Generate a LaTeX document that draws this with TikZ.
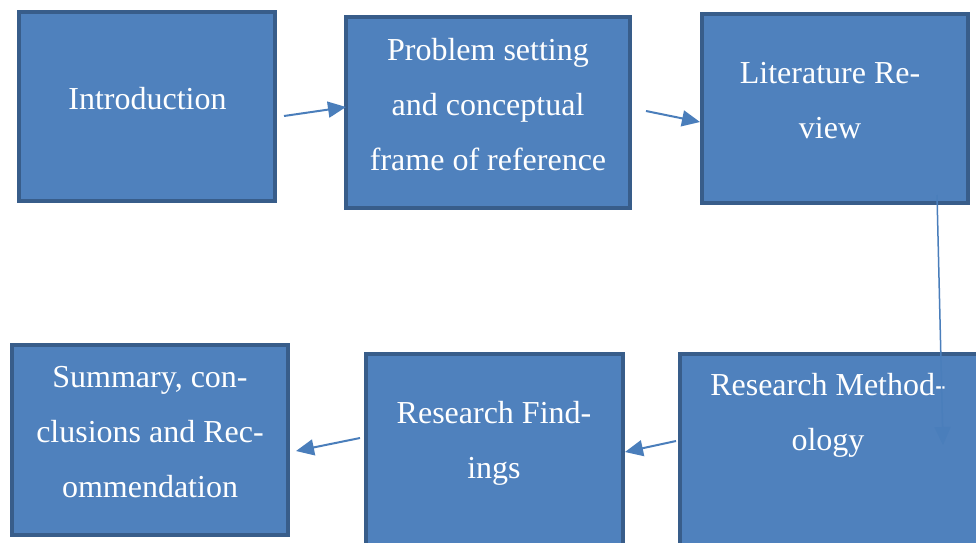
\documentclass[tikz,border=0pt]{standalone}
\usepackage{fontspec}
\setmainfont{Liberation Serif}
\usetikzlibrary{arrows.meta}
\definecolor{boxfill}{HTML}{4F81BD}
\definecolor{boxline}{HTML}{385D8A}
\definecolor{arrowc}{HTML}{4A7EBB}
\begin{document}
\begin{tikzpicture}[x=1pt,y=-1pt,
  box/.style={draw=boxline,fill=boxfill,line width=4pt,rectangle,inner sep=0pt,outer sep=0pt},
  txt/.style={text=white,align=center,inner sep=0pt,anchor=base,font=\fontsize{32}{55}\selectfont},
  conn/.style={draw=arrowc,line width=2pt,-{Triangle[length=18pt,width=16pt]}}]
\clip (0,0) rectangle (976,542);
\fill[white] (0,0) rectangle (976,542);
\node[box,minimum width=256pt,minimum height=189pt] (intro) at (147,106.5) {};
\node[box,minimum width=284pt,minimum height=191pt] (prob) at (488,112.5) {};
\node[box,minimum width=266pt,minimum height=189pt] (lit) at (835,108.5) {};
\node[box,minimum width=276pt,minimum height=190pt] (summ) at (150,440) {};
\node[box,minimum width=257pt,minimum height=226pt] (find) at (494.5,467) {};
\node[box,minimum width=330pt,minimum height=226pt] (meth) at (845,467) {};

\node[txt] (t1) at (147.5,109) {Introduction};
\node[txt] (t2) at (488,170) {Problem setting\\and conceptual\\frame of reference};
\node[txt] (t3) at (830,138) {Literature Re-\\view};
\node[txt] (t4) at (150,497) {Summary, con-\\clusions and Rec-\\ommendation};
\node[txt] (t5) at (494,478) {Research Find-\\ings};
\node[txt] (t6) at (828,450) {Research Method-\\ology};

\draw[conn] ([xshift=9pt,yshift=-9.5pt]intro.east) -- ([yshift=5.5pt]prob.west);
\draw[conn] ([xshift=16pt,yshift=1.5pt]prob.east) -- ([xshift=-2pt,yshift=-13.5pt]lit.west);
\draw[conn,line width=1.5pt] ([xshift=102pt,yshift=8pt]lit.south) -- ([xshift=98pt,yshift=-91pt]meth.north);
\draw[conn] ([xshift=-4pt,yshift=26pt]meth.west) -- ([xshift=2pt,yshift=15pt]find.east);
\draw[conn] ([xshift=-6pt,yshift=29pt]find.west) -- ([xshift=8pt,yshift=-11pt]summ.east);
\end{tikzpicture}
\end{document}
